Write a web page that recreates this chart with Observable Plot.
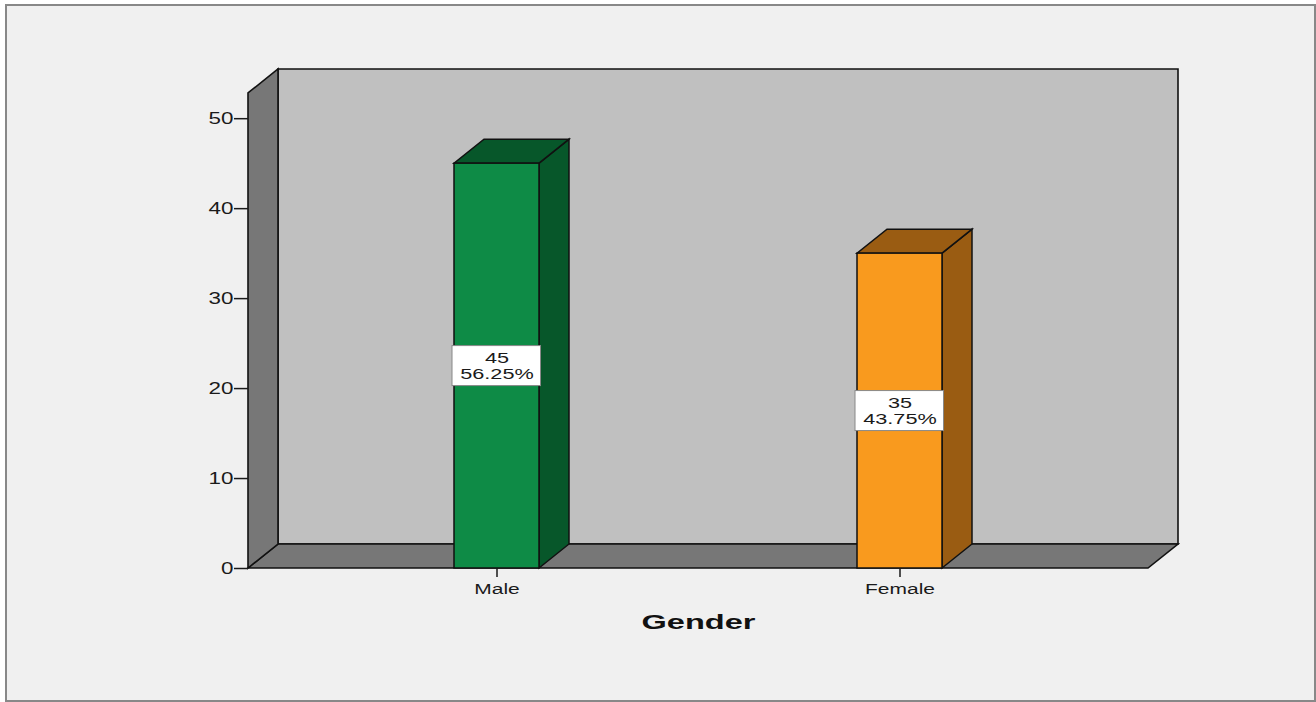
<!DOCTYPE html>
<html><head><meta charset="utf-8">
<script src="https://cdn.jsdelivr.net/npm/d3@7"></script>
<script src="https://cdn.jsdelivr.net/npm/@observablehq/plot@0.6"></script>
<style>
html,body{margin:0;padding:0;background:#fff;}
#frame{position:absolute;left:5px;top:4px;width:1307px;height:694px;border:2px solid #888;background:#f0f0f0;}
#chart{position:absolute;left:0;top:0;}
</style></head><body>
<div id="frame"></div><div id="chart"></div>
<script>
const categories = ["Male", "Female"];
const counts = [45, 35];
const percentLabels = ["56.25%", "43.75%"];
const frontColors = ["#0e8b46", "#f99a1e"];
const sideColors = ["#07572a", "#9a5c12"];
const yTicks = [0, 10, 20, 30, 40, 50];
const yMax = 52.8;
const xLabel = "Gender";

const data = categories.map((c, i) => ({gender: c, count: counts[i], pct: percentLabels[i], front: frontColors[i], side: sideColors[i]}));

const DX = 30, DY = -24;
const EDGE = "#111";
const PAD_IN = 0.789, PAD_OUT = 0.51;

function poly(g, pts, fill) {
  g.append("polygon").attr("points", pts.map(p => p.join(",")).join(" ")).attr("fill", fill);
}

function walls(index, scales, values, dim) {
  const x0 = dim.marginLeft, x1 = dim.width - dim.marginRight;
  const y0 = scales.y(0), yt = scales.y(yMax);
  const g = d3.create("svg:g").attr("stroke", EDGE).attr("stroke-width", 1.6).attr("stroke-linejoin", "miter");
  poly(g, [[x0 + DX, yt + DY], [x1 + DX, yt + DY], [x1 + DX, y0 + DY], [x0 + DX, y0 + DY]], "#c0c0c0");
  poly(g, [[x0, y0], [x1, y0], [x1 + DX, y0 + DY], [x0 + DX, y0 + DY]], "#777777");
  poly(g, [[x0, y0], [x0, yt], [x0 + DX, yt + DY], [x0 + DX, y0 + DY]], "#777777");
  return g.node();
}

function barSides(index, scales, values, dim) {
  const x0 = dim.marginLeft, x1 = dim.width - dim.marginRight;
  let bw;
  if (scales.x && typeof scales.x.bandwidth === "function") bw = scales.x.bandwidth();
  else { const step = (x1 - x0) / (categories.length - PAD_IN + 2 * PAD_OUT); bw = step * (1 - PAD_IN); }
  const y0 = scales.y(0);
  const g = d3.create("svg:g").attr("stroke", EDGE).attr("stroke-width", 1.5).attr("stroke-linejoin", "miter");
  for (const d of data) {
    const xl = scales.x(d.gender), xr = xl + bw, yv = scales.y(d.count);
    poly(g, [[xr, y0], [xr, yv], [xr + DX, yv + DY], [xr + DX, y0 + DY]], d.side);
    poly(g, [[xl, yv], [xr, yv], [xr + DX, yv + DY], [xl + DX, yv + DY]], d.side);
  }
  return g.node();
}

const svg = Plot.plot({
  width: 1316,
  height: 702,
  marginLeft: 248,
  marginRight: 168,
  marginTop: 93,
  marginBottom: 134,
  style: {background: "transparent", color: "#1a1a1a", fontFamily: "'Liberation Sans', Arial, sans-serif", overflow: "visible"},
  x: {domain: categories, paddingInner: PAD_IN, paddingOuter: PAD_OUT, label: null},
  y: {domain: [0, yMax], label: null},
  color: {type: "identity"},
  marks: [
    walls,
    barSides,
    Plot.barY(data, {x: "gender", y: "count", fill: "front", stroke: EDGE, strokeWidth: 1.5}),
    Plot.barY(data, {x: "gender", y1: d => d.count / 2, y2: d => d.count / 2, insetTop: -20, insetBottom: -20, insetLeft: -2, insetRight: -1.5, fill: "white", stroke: "#888", strokeWidth: 1}),
    Plot.text(data, {x: "gender", y: d => d.count / 2, text: d => `${d.count}\n${d.pct}`, fontSize: 15.5, lineHeight: 1.0, fill: "#1a1a1a"}),
    Plot.axisY({ticks: yTicks, tickSize: 14, tickPadding: 1, fontSize: 16, label: null, strokeWidth: 1.5}),
    Plot.axisX({tickSize: 9, tickPadding: 6, fontSize: 15, label: null, strokeWidth: 1.5}),
    Plot.text([xLabel], {frameAnchor: "bottom", lineAnchor: "middle", dy: 54, text: d => d, fontSize: 21, fontWeight: "bold", fill: "#111"})
  ]
});

svg.querySelectorAll("text").forEach(t => {
  const k = t.textContent === xLabel ? 1.55 : 1.4;
  const tr = t.getAttribute("transform");
  if (tr) t.setAttribute("transform", tr + ` scale(${k},1)`);
  else {
    const x = +(t.getAttribute("x") || 0);
    t.setAttribute("transform", `translate(${x},0) scale(${k},1) translate(${-x},0)`);
  }
});

document.getElementById("chart").appendChild(svg);
</script>
</body></html>
